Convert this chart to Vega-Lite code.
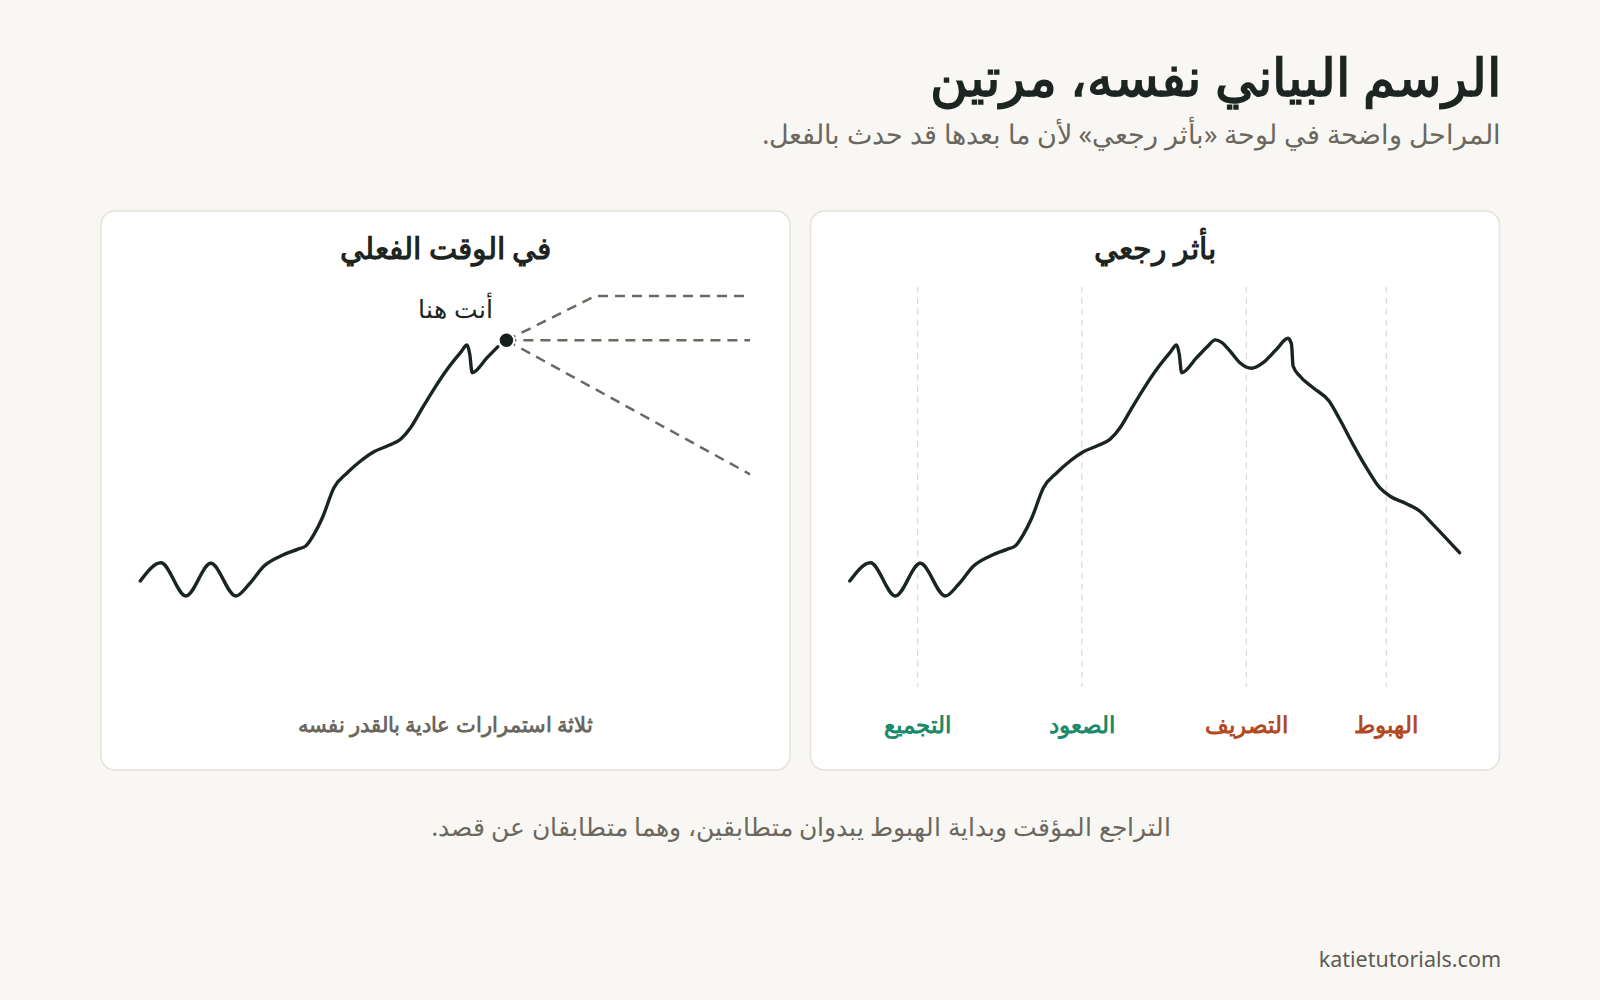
{
  "$schema": "https://vega.github.io/schema/vega-lite/v6.json",
  "description": "Same chart twice: real-time view vs hindsight view of a market cycle.",
  "background": "#f8f7f4",
  "padding": {"left": 100, "right": 100, "top": 54, "bottom": 0},
  "title": {
    "text": "الرسم البياني نفسه، مرتين",
    "subtitle": "المراحل واضحة في لوحة «بأثر رجعي» لأن ما بعدها قد حدث بالفعل.‏",
    "anchor": "end",
    "fontSize": 51.5,
    "fontWeight": 700,
    "color": "#1c2522",
    "subtitleFontSize": 26.5,
    "subtitleColor": "#6b675e",
    "subtitlePadding": 17,
    "offset": 60.5
  },
  "datasets": {
    "price": [
      {"t": 5.70, "p": 33.81, "seen": true},
      {"t": 8.70, "p": 37.08, "seen": true},
      {"t": 12.32, "p": 31.13, "seen": true},
      {"t": 15.94, "p": 36.98, "seen": true},
      {"t": 19.57, "p": 31.13, "seen": true},
      {"t": 21.49, "p": 33.22, "seen": true},
      {"t": 23.67, "p": 36.49, "seen": true},
      {"t": 26.09, "p": 38.28, "seen": true},
      {"t": 28.51, "p": 39.48, "seen": true},
      {"t": 29.71, "p": 40.07, "seen": true},
      {"t": 30.91, "p": 42.16, "seen": true},
      {"t": 32.13, "p": 45.13, "seen": true},
      {"t": 33.81, "p": 50.50, "seen": true},
      {"t": 35.75, "p": 53.18, "seen": true},
      {"t": 37.68, "p": 55.28, "seen": true},
      {"t": 39.61, "p": 56.94, "seen": true},
      {"t": 41.55, "p": 57.96, "seen": true},
      {"t": 43.48, "p": 59.16, "seen": true},
      {"t": 44.93, "p": 61.23, "seen": true},
      {"t": 46.38, "p": 64.22, "seen": true},
      {"t": 48.30, "p": 68.10, "seen": true},
      {"t": 50.25, "p": 71.68, "seen": true},
      {"t": 52.17, "p": 74.65, "seen": true},
      {"t": 53.14, "p": 76.03, "seen": true},
      {"t": 53.52, "p": 74.36, "seen": true},
      {"t": 53.87, "p": 71.07, "seen": true},
      {"t": 56.04, "p": 73.76, "seen": true},
      {"t": 57.58, "p": 75.70, "seen": true},
      {"t": 58.75, "p": 76.95, "seen": false},
      {"t": 59.67, "p": 76.50, "seen": false},
      {"t": 60.87, "p": 74.96, "seen": false},
      {"t": 62.32, "p": 72.86, "seen": false},
      {"t": 64.01, "p": 71.86, "seen": false},
      {"t": 65.70, "p": 72.86, "seen": false},
      {"t": 67.64, "p": 75.26, "seen": false},
      {"t": 69.31, "p": 77.23, "seen": false},
      {"t": 69.81, "p": 76.15, "seen": false},
      {"t": 70.04, "p": 72.27, "seen": false},
      {"t": 71.01, "p": 70.48, "seen": false},
      {"t": 72.94, "p": 68.39, "seen": false},
      {"t": 75.26, "p": 66.01, "seen": false},
      {"t": 76.81, "p": 62.74, "seen": false},
      {"t": 78.74, "p": 58.26, "seen": false},
      {"t": 80.68, "p": 54.08, "seen": false},
      {"t": 82.61, "p": 50.50, "seen": false},
      {"t": 84.06, "p": 49.02, "seen": false},
      {"t": 86.48, "p": 47.64, "seen": false},
      {"t": 88.41, "p": 46.33, "seen": false},
      {"t": 90.33, "p": 43.95, "seen": false},
      {"t": 94.20, "p": 38.87, "seen": false}
    ],
    "scenarios": [
      {"scenario": "up", "t": 58.84, "p": 76.87},
      {"scenario": "up", "t": 71.74, "p": 84.79},
      {"scenario": "up", "t": 94.20, "p": 84.79},
      {"scenario": "flat", "t": 58.84, "p": 76.87},
      {"scenario": "flat", "t": 94.20, "p": 76.87},
      {"scenario": "down", "t": 58.84, "p": 76.87},
      {"scenario": "down", "t": 94.20, "p": 52.90}
    ],
    "now": [
      {"t": 58.84, "p": 76.87, "label": "أنت هنا"}
    ],
    "phases": [
      {"t": 15.55, "phase": "التجميع", "side": "bullish"},
      {"t": 39.38, "phase": "الصعود", "side": "bullish"},
      {"t": 63.26, "phase": "التصريف", "side": "bearish"},
      {"t": 83.57, "phase": "الهبوط", "side": "bearish"}
    ]
  },
  "spacing": 0,
  "vconcat": [
    {
      "spacing": 18.5,
      "hconcat": [
        {
          "width": 689,
          "height": 559,
          "title": {
            "text": "في الوقت الفعلي",
            "fontSize": 30,
            "fontWeight": 600,
            "color": "#1c2522",
            "anchor": "middle",
            "baseline": "bottom",
            "offset": -84
          },
          "layer": [
            {
              "data": {"name": "scenarios"},
              "mark": {"type": "line", "color": "#6b6860", "strokeWidth": 2.5, "strokeDash": [10, 7]},
              "encoding": {
                "x": {"field": "t", "type": "quantitative", "scale": {"domain": [0, 100], "nice": false, "zero": false}, "axis": null},
                "y": {"field": "p", "type": "quantitative", "scale": {"domain": [0, 100], "nice": false, "zero": false}, "axis": null},
                "detail": {"field": "scenario"},
                "order": {"field": "t"}
              }
            },
            {
              "data": {"name": "price"},
              "transform": [{"filter": "datum.seen"}],
              "mark": {"type": "line", "color": "#1a2421", "strokeWidth": 3.4, "interpolate": "monotone", "strokeCap": "round", "strokeJoin": "round"},
              "encoding": {
                "x": {"field": "t", "type": "quantitative"},
                "y": {"field": "p", "type": "quantitative"}
              }
            },
            {
              "data": {"name": "now"},
              "mark": {"type": "point", "filled": true, "size": 240, "color": "#16201c", "stroke": "#ffffff", "strokeWidth": 2, "opacity": 1},
              "encoding": {
                "x": {"field": "t", "type": "quantitative"},
                "y": {"field": "p", "type": "quantitative"}
              }
            },
            {
              "data": {"name": "now"},
              "mark": {"type": "text", "fontSize": 25, "fontWeight": 500, "color": "#1a2421", "dx": -51, "dy": -30},
              "encoding": {
                "x": {"field": "t", "type": "quantitative"},
                "y": {"field": "p", "type": "quantitative"},
                "text": {"field": "label"}
              }
            },
            {
              "data": {"values": [{"note": "ثلاثة استمرارات عادية بالقدر نفسه"}]},
              "mark": {"type": "text", "fontSize": 21, "fontWeight": 700, "color": "#6b675e"},
              "encoding": {
                "x": {"datum": 50},
                "y": {"datum": 7.87},
                "text": {"field": "note"}
              }
            }
          ]
        },
        {
          "width": 689,
          "height": 559,
          "title": {
            "text": "بأثر رجعي",
            "fontSize": 30,
            "fontWeight": 600,
            "color": "#1c2522",
            "anchor": "middle",
            "baseline": "bottom",
            "offset": -84
          },
          "layer": [
            {
              "data": {"name": "phases"},
              "mark": {"type": "rule", "color": "#dedbd5", "strokeWidth": 1.3, "strokeDash": [6, 5]},
              "encoding": {
                "x": {"field": "t", "type": "quantitative", "scale": {"domain": [0, 100], "nice": false, "zero": false}, "axis": null},
                "y": {"datum": 86.46, "type": "quantitative", "scale": {"domain": [0, 100], "nice": false, "zero": false}, "axis": null},
                "y2": {"datum": 14.9}
              }
            },
            {
              "data": {"name": "price"},
              "mark": {"type": "line", "color": "#1a2421", "strokeWidth": 3.4, "interpolate": "monotone", "strokeCap": "round", "strokeJoin": "round"},
              "encoding": {
                "x": {"field": "t", "type": "quantitative"},
                "y": {"field": "p", "type": "quantitative"}
              }
            },
            {
              "data": {"name": "phases"},
              "mark": {"type": "text", "fontSize": 22.5, "fontWeight": 700},
              "encoding": {
                "x": {"field": "t", "type": "quantitative"},
                "y": {"datum": 7.87, "type": "quantitative"},
                "text": {"field": "phase"},
                "color": {
                  "field": "side",
                  "type": "nominal",
                  "scale": {"domain": ["bullish", "bearish"], "range": ["#1b8a6b", "#b34a1f"]},
                  "legend": null
                }
              }
            }
          ]
        }
      ]
    },
    {
      "width": 1400,
      "height": 240,
      "view": {"fill": null, "stroke": null},
      "layer": [
        {
          "data": {"values": [{"text": "التراجع المؤقت وبداية الهبوط يبدوان متطابقين، وهما متطابقان عن قصد.‏"}]},
          "mark": {"type": "text", "fontSize": 24.6, "color": "#6b675e", "baseline": "middle"},
          "encoding": {
            "x": {"datum": 50, "type": "quantitative", "scale": {"domain": [0, 100], "nice": false, "zero": false}, "axis": null},
            "y": {"datum": 58, "type": "quantitative", "scale": {"domain": [0, 240], "nice": false, "zero": false, "reverse": true}, "axis": null},
            "text": {"field": "text"}
          }
        },
        {
          "data": {"values": [{"text": "katietutorials.com"}]},
          "mark": {"type": "text", "fontSize": 21.5, "color": "#5f5b53", "align": "right", "baseline": "middle"},
          "encoding": {
            "x": {"datum": 100, "type": "quantitative"},
            "y": {"datum": 190, "type": "quantitative"},
            "text": {"field": "text"}
          }
        }
      ]
    }
  ],
  "config": {
    "font": "Noto Sans",
    "view": {"fill": "#ffffff", "stroke": "#e4e2db", "strokeWidth": 1.5, "cornerRadius": 14}
  }
}
